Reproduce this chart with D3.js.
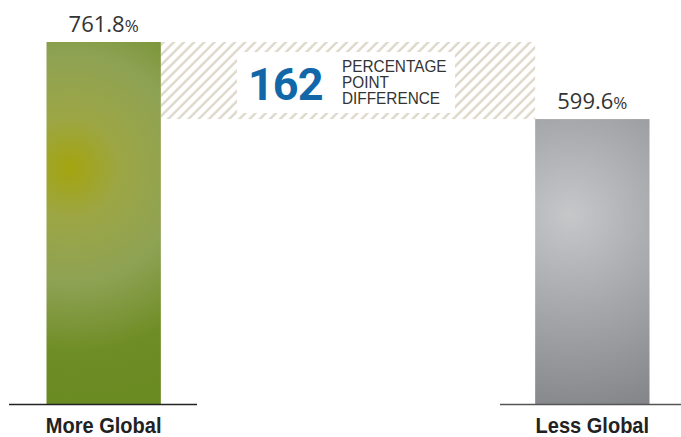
<!DOCTYPE html>
<html>
<head>
<meta charset="utf-8">
<script src="https://cdn.jsdelivr.net/npm/d3@7"></script>
<style>
  body { margin: 0; background: #fff; }
  svg { display: block; }
</style>
</head>
<body>
<div id="chart"></div>
<script>
// chart values
const categories = ["More Global", "Less Global"];
const values = [761.8, 599.6];
const diffWords = ["PERCENTAGE", "POINT", "DIFFERENCE"];

const width = 681, height = 437;
const baseY = 404, topY = 42;

const svg = d3.select("#chart").append("svg")
    .attr("width", width)
    .attr("height", height);

const defs = svg.append("defs");

// green bar gradient, yellowish hot spot on the left
const gGreen = defs.append("radialGradient")
    .attr("id", "gradGreen")
    .attr("gradientUnits", "userSpaceOnUse")
    .attr("cx", 70).attr("cy", 168).attr("r", 230);
gGreen.append("stop").attr("offset", "0").attr("stop-color", "#a3a40e");
gGreen.append("stop").attr("offset", "0.22").attr("stop-color", "#9ca645");
gGreen.append("stop").attr("offset", "0.5").attr("stop-color", "#8ea254");
gGreen.append("stop").attr("offset", "0.8").attr("stop-color", "#6f8d26");
gGreen.append("stop").attr("offset", "1").attr("stop-color", "#6a8a22");

// grey bar gradient
const gGrey = defs.append("radialGradient")
    .attr("id", "gradGrey")
    .attr("gradientUnits", "userSpaceOnUse")
    .attr("cx", 570).attr("cy", 215).attr("r", 200);
gGrey.append("stop").attr("offset", "0").attr("stop-color", "#c6c7c9");
gGrey.append("stop").attr("offset", "0.5").attr("stop-color", "#a5a6a9");
gGrey.append("stop").attr("offset", "1").attr("stop-color", "#85868a");

// diagonal hatching
const pat = defs.append("pattern")
    .attr("id", "hatch")
    .attr("patternUnits", "userSpaceOnUse")
    .attr("width", 7.2).attr("height", 10)
    .attr("patternTransform", "rotate(45)");
pat.append("rect").attr("width", 7.2).attr("height", 10).attr("fill", "#fff");
pat.append("line")
    .attr("x1", 1.5).attr("y1", 0).attr("x2", 1.5).attr("y2", 10)
    .attr("stroke", "#ddd8c9").attr("stroke-width", 2.4);

// scales
const x = d3.scaleBand()
    .domain(categories)
    .range([46.5, 649.5])
    .paddingInner(0.766)
    .paddingOuter(0);

const y = d3.scaleLinear()
    .domain([0, d3.max(values)])
    .range([baseY, topY]);

const data = categories.map((c, i) => ({ cat: c, value: values[i] }));
const fills = ["url(#gradGreen)", "url(#gradGrey)"];

// hatched band showing the gap
const xa = x(categories[0]) + x.bandwidth();
const xb = x(categories[1]);
svg.append("rect")
    .attr("x", xa)
    .attr("y", y(values[0]))
    .attr("width", xb - xa)
    .attr("height", y(values[1]) - y(values[0]))
    .attr("fill", "url(#hatch)");

// white label box
svg.append("rect")
    .attr("x", 237).attr("y", 52)
    .attr("width", 218).attr("height", 61)
    .attr("fill", "#fff");

const diff = Math.round(values[0] - values[1]);
svg.append("text")
    .attr("x", 248).attr("y", 100)
    .attr("font-family", "Roboto, 'Liberation Sans', sans-serif")
    .attr("font-weight", "bold")
    .attr("font-size", 45)
    .attr("fill", "#1167a8")
    .attr("letter-spacing", -1)
    .text(diff);

// squeeze text horizontally by a factor (fake condensed face)
function condense(sel, k) {
    sel.each(function() {
        const w = this.getComputedTextLength();
        d3.select(this)
            .attr("textLength", w * k)
            .attr("lengthAdjust", "spacingAndGlyphs");
    });
}

svg.append("g").selectAll("text")
    .data(diffWords)
    .enter()
    .append("text")
    .attr("x", 342)
    .attr("y", (d, i) => 72 + i * 16.2)
    .attr("font-family", "'Liberation Sans', Arial, sans-serif")
    .attr("font-size", 16.5)
    .attr("fill", "#333")
    .call(s => s.text(d => d))
    .call(condense, 0.93);

// bars
svg.append("g").selectAll("rect")
    .data(data)
    .enter()
    .append("rect")
    .attr("x", d => x(d.cat))
    .attr("y", d => y(d.value))
    .attr("width", x.bandwidth())
    .attr("height", d => y(0) - y(d.value))
    .attr("fill", (d, i) => fills[i]);

// baselines
svg.append("line")
    .attr("x1", 9).attr("x2", 197)
    .attr("y1", baseY + 0.5).attr("y2", baseY + 0.5)
    .attr("stroke", "#222").attr("stroke-width", 1.6);
svg.append("line")
    .attr("x1", 500).attr("x2", width)
    .attr("y1", baseY + 0.5).attr("y2", baseY + 0.5)
    .attr("stroke", "#555").attr("stroke-width", 1.6);

// value labels
const vlab = svg.append("g").selectAll("text")
    .data(data)
    .enter()
    .append("text")
    .attr("x", d => x(d.cat) + x.bandwidth() / 2)
    .attr("y", d => y(d.value) - 10)
    .attr("text-anchor", "middle")
    .attr("font-family", "'Open Sans', sans-serif")
    .attr("font-size", 22)
    .attr("fill", "#333");
vlab.append("tspan").text(d => d3.format(".1f")(d.value));
vlab.append("tspan").attr("font-size", 17).text("%");

// category labels, condensed bold
svg.append("g").selectAll("text")
    .data(data)
    .enter()
    .append("text")
    .attr("x", d => x(d.cat) + x.bandwidth() / 2)
    .attr("y", 433)
    .attr("text-anchor", "middle")
    .attr("font-family", "'Liberation Sans', Arial, sans-serif")
    .attr("font-weight", "bold")
    .attr("font-size", 22.5)
    .attr("fill", "#222")
    .call(s => s.text(d => d.cat))
    .call(condense, 0.89);
</script>
</body>
</html>
